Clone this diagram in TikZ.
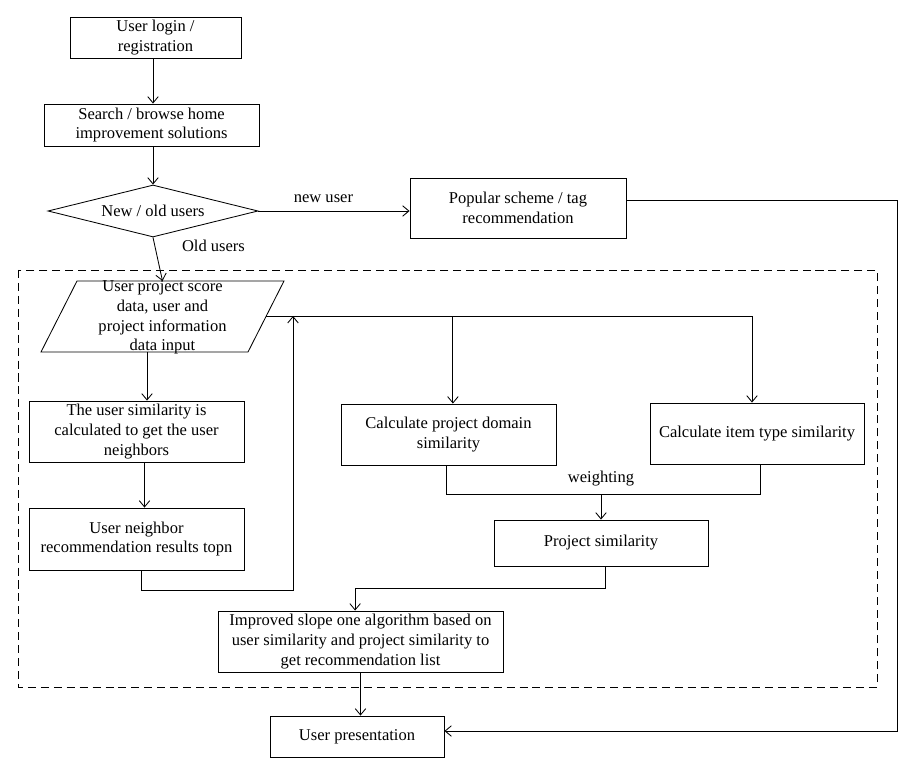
\documentclass[tikz,border=0pt]{standalone}
\usepackage{fontspec}
\setmainfont{Liberation Serif}
\usepackage{tikz}
\usetikzlibrary{arrows.meta,positioning,calc,shapes.geometric}

\begin{document}
\begin{tikzpicture}[->, >={Straight Barb[length=4.5pt,width=7.5pt]}, x=0.025cm, y=-0.025cm, line width=0.6pt,
    font=\fontsize{11.75}{14}\selectfont]
\tikzstyle{box}=[draw, rectangle, align=center, inner sep=2pt]
\tikzstyle{every node}=[text=black]
\useasboundingbox (0,0) rectangle (920,773);
\node[box, minimum width=4.275cm, minimum height=1.025cm] (login)   at (155.5,37.5) {User login /\\registration};
\node[box, minimum width=5.375cm, minimum height=1.05cm]  (search)  at (151.5,125)  {Search / browse home\\improvement solutions};
\node[draw, diamond, aspect=4, inner sep=0pt, minimum width=5.25cm, minimum height=1.3cm] (newold) at (153,211) {New / old users};
\node[box, minimum width=5.4cm, minimum height=1.5cm]     (popular) at (518,208)    {Popular scheme / tag\\recommendation};
\node[align=center] (inp) at (162.5,317.5) {User project score\\data, user and\\project information\\data input};
\node[box, minimum width=5.375cm, minimum height=1.525cm] (usersim)  at (136.5,431.5) {The user similarity is\\calculated to get the user\\neighbors};
\node[box, minimum width=5.375cm, minimum height=1.55cm]  (neighbor) at (136.5,539)   {User neighbor\\recommendation results topn};
\node[box, minimum width=5.375cm, minimum height=1.525cm] (domain)   at (448.5,434.5) {Calculate project domain\\similarity};
\node[box, minimum width=5.35cm, minimum height=1.525cm]  (item)     at (757,433.5)   {Calculate item type similarity};
\node[box, minimum width=5.35cm, minimum height=1.15cm]   (projsim)  at (601,543)     {Project similarity};
\node[box, minimum width=7.125cm, minimum height=1.525cm] (improved) at (360.5,641.5) {Improved slope one algorithm based on\\user similarity and project similarity to\\get recommendation list};
\node[box, minimum width=4.35cm, minimum height=1.025cm]  (present)  at (357,736.5)   {User presentation};
\coordinate (inptop) at ($(inp)+(0,-36.5)$);
\coordinate (inpout) at ($(inp)+(103.5,-1)$);
\coordinate (inpbot) at ($(inp)+(-15.5,34.5)$);
\coordinate (bus) at (293,316);
\coordinate (wt) at (601,494);
\coordinate (rt) at (897,731);

% input data parallelogram
\draw[-] ($(inp)+(-85.5,-36.5)$) -- ($(inp)+(121.5,-36.5)$) -- ($(inp)+(85.5,34.5)$) -- ($(inp)+(-121.5,34.5)$) -- cycle;
\draw[-, dash pattern=on 5.7pt off 3.5pt] (18,270) rectangle (877,687);

\draw (newold.north |- login.south) -- (newold.north |- search.north);
\draw (newold.north |- search.south) -- (newold.north);
\draw (newold.east) -- node[above=2pt, pos=0.43]{new user} (newold.east -| popular.west);
\draw (newold.south) -- node[right, pos=0.2, xshift=0.55cm]{Old users} (inptop);
\draw ([yshift=0.2cm]popular.east) -| (rt) -- (rt -| present.east);
\draw (inpbot) -- (inpbot |- usersim.north);
\draw ([xshift=0.2cm]usersim.south) -- ([xshift=0.2cm]neighbor.north);
\draw ([xshift=0.125cm]neighbor.south) -- ++(0,20) -| (bus);
\draw (inpout) -| ([xshift=-0.125cm]item.north);
\draw ([xshift=0.11cm]inpout -| domain.north) -- ([xshift=0.11cm]domain.north);
\draw[-] ([xshift=-0.04cm]domain.south) -- ([xshift=-0.04cm]domain.south |- wt) -| ([xshift=0.075cm]item.south);
\draw (wt) node[above=2pt]{weighting} -- (projsim.north);
\draw ([xshift=0.1cm]projsim.south) -- ++(0,22) -| ([xshift=-0.135cm]improved.north);
\draw (improved.south) -- (improved.south |- present.north);
\end{tikzpicture}
\end{document}
